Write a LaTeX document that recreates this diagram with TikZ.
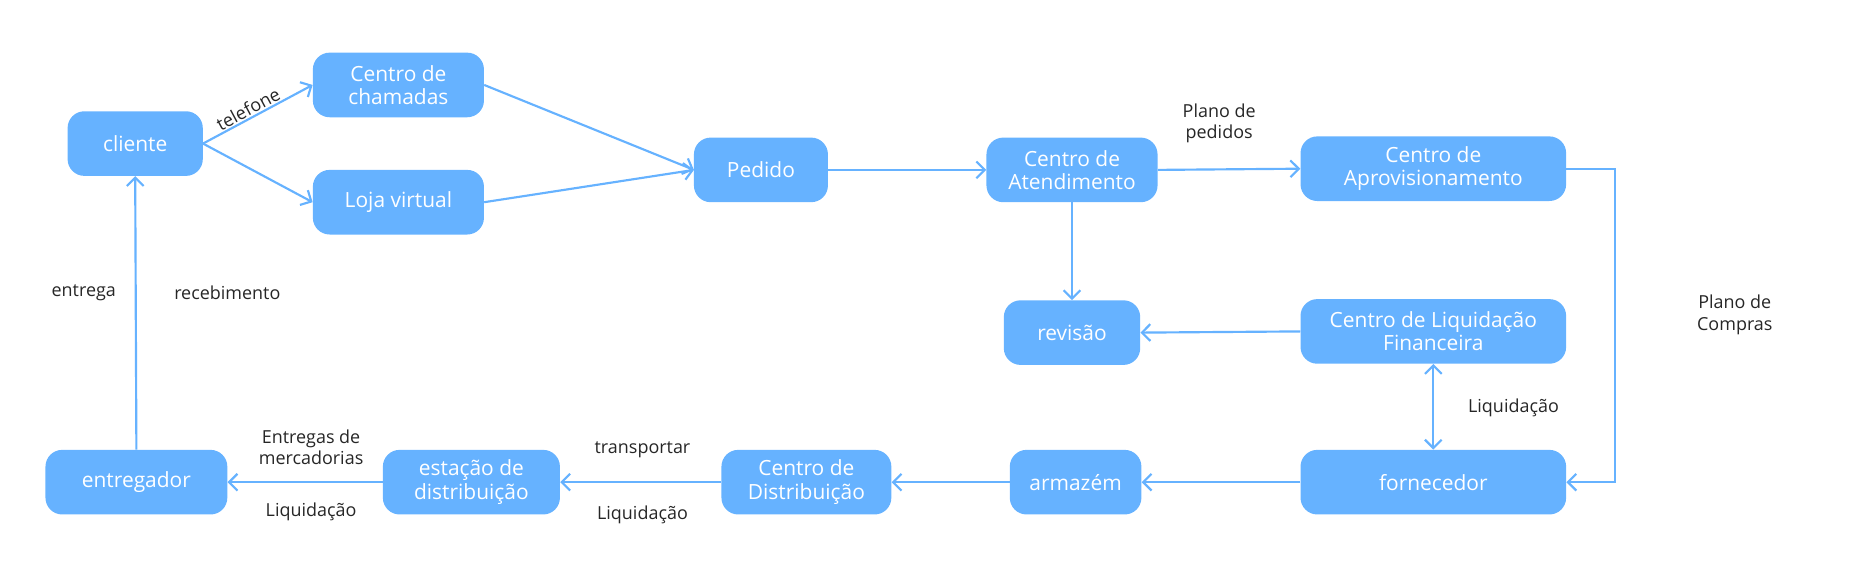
\documentclass[tikz,border=0pt]{standalone}
\usepackage{fontspec}
\setmainfont{Open Sans}
\usetikzlibrary{arrows.meta}
\definecolor{nb}{HTML}{66B2FF}
\definecolor{ln}{HTML}{66B2FF}
\begin{document}
\begin{tikzpicture}[x=1pt,y=-1pt,
  box/.style={draw=none,fill=nb,rounded corners=14pt,text=white,font=\fontsize{17.5}{19.5}\selectfont,align=center,inner sep=0pt},
  conn/.style={draw=ln,line width=1.8pt,-{Straight Barb[length=7pt,width=14pt,line width=1.8pt]}},
  lab/.style={font=\fontsize{15}{18}\selectfont,text=black!85,align=center}]
\useasboundingbox (0,0) rectangle (1568,483);
\node[box,minimum width=113pt,minimum height=54pt] (cli) at (113,120) {cliente};
\node[box,minimum width=143pt,minimum height=54pt] (cha) at (333,71) {Centro de\\chamadas};
\node[box,minimum width=143pt,minimum height=54pt] (loj) at (333,169) {Loja virtual};
\node[box,minimum width=112pt,minimum height=54pt] (ped) at (636,142) {Pedido};
\node[box,minimum width=143pt,minimum height=54pt] (ate) at (896,142) {Centro de\\Atendimento};
\node[box,minimum width=222pt,minimum height=54pt] (apr) at (1198,141) {Centro de\\Aprovisionamento};
\node[box,minimum width=114pt,minimum height=54pt] (rev) at (896,278) {revisão};
\node[box,minimum width=222pt,minimum height=54pt] (liq) at (1198,277) {Centro de Liquidação\\Financeira};
\node[box,minimum width=222pt,minimum height=54pt] (for) at (1198,403) {fornecedor};
\node[box,minimum width=110pt,minimum height=54pt] (arm) at (899,403) {armazém};
\node[box,minimum width=142pt,minimum height=54pt] (dis) at (674,403) {Centro de\\Distribuição};
\node[box,minimum width=148pt,minimum height=54pt] (est) at (394,403) {estação de\\distribuição};
\node[box,minimum width=152pt,minimum height=54pt] (ent) at (114,403) {entregador};
\coordinate (pw) at (580,142);
\coordinate (turn1) at (1350,141);
\coordinate (turn2) at (1350,403);
\draw[conn] (cli.east) -- node[lab,sloped,above,pos=0.45,inner sep=1pt]{telefone} (cha.west);
\draw[conn] (cli.east) -- (loj.west);
\draw[conn] (cha.east) -- (pw);
\draw[conn] (loj.east) -- (pw);
\draw[conn] (ped.east) -- (ate.west);
\draw[conn] (ate.east) -- (apr.west);
\node[lab] (l1) at (1019,103) {Plano de\\pedidos};
\draw[conn] (ate.south) -- (rev.north);
\draw[conn] (liq.west) -- (rev.east);
\draw[conn] (apr.east) -- (turn1) -- (turn2) -- (for.east);
\node[lab] (l2) at (1450,263) {Plano de\\Compras};
\draw[conn,{Straight Barb[length=7pt,width=14pt,line width=1.8pt]}-{Straight Barb[length=7pt,width=14pt,line width=1.8pt]}] (for.north) -- (liq.south);
\node[lab] (l3) at (1265,341) {Liquidação};
\draw[conn] (for.west) -- (arm.east);
\draw[conn] (arm.west) -- (dis.east);
\draw[conn] (dis.west) -- (est.east);
\node[lab] (l4) at (537,376) {transportar};
\node[lab] (l5) at (537,430) {Liquidação};
\draw[conn] (est.west) -- (ent.east);
\node[lab] (l6) at (260,374) {Entregas de\\mercadorias};
\node[lab] (l7) at (260,428) {Liquidação};
\draw[conn] (ent.north) -- (cli.south);
\node[lab] (l8) at (70,245) {entrega};
\node[lab] (l9) at (190,245) {recebimento};
\end{tikzpicture}
\end{document}
